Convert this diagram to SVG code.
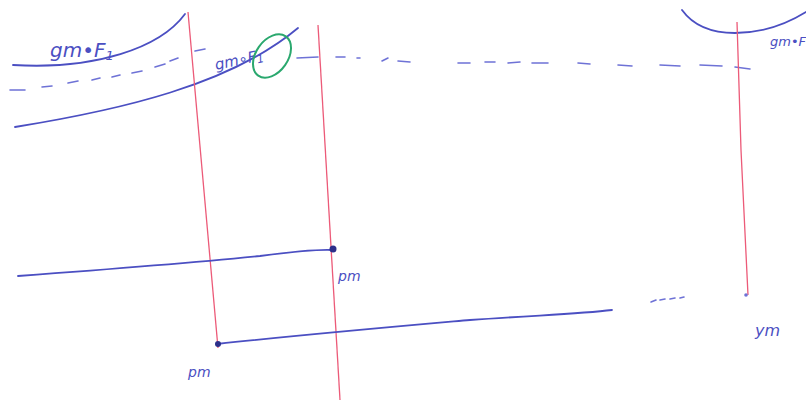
<svg xmlns="http://www.w3.org/2000/svg" width="806" height="400" viewBox="0 0 806 400">
<style>
.b{fill:none;stroke:#4b4fc2;stroke-width:1.8;stroke-linecap:round}
.bd{fill:none;stroke:#6e72d6;stroke-width:1.6;stroke-linecap:round}
.r{fill:none;stroke:#ec5a78;stroke-width:1.3}
.g{fill:none;stroke:#2aa86e;stroke-width:2}
.t{font-family:"DejaVu Sans",sans-serif;font-style:italic;fill:#4b4fc2}
</style>
<rect width="806" height="400" fill="#fff"/>
<g id="curves">
<path class="b" d="M13,65 C95,70 160,48 185,14"/>
<path class="b" d="M15,127 C120,110 230,85 298,28"/>
<path class="b" d="M682,10 C695,28 715,33 735,33 C760,33 785,25 806,12"/>
</g>
<g id="dashes">
<path class="bd" d="M10,90 L25,90 M42,87 L52,86 M68,83 L78,81 M92,80 L100,78 M112,77 L120,75 M132,73 L142,71 M155,67 L165,64 M170,61 L178,58 M195,51 L205,49 M297,58 L318,57 M336,57 L345,57 M357,58 L360,58 M382,61 L388,58 M398,61 L410,62 M458,63 L470,63 M485,62 L495,62 M508,63 L520,62 M532,63 L548,63 M578,63 L590,64 M618,65 L632,66 M660,65 L680,66 M700,65 L722,66 M735,67 L750,69"/>
<path class="bd" d="M651,302 L656,300 M660,300 L665,299 M670,299 L675,298 M680,298 L684,297"/>
</g>
<g id="verticals">
<path class="r" d="M188,12 L218,348"/>
<path class="r" d="M318,25 L340,400"/>
<path class="r" d="M737,22 L741,150 L748,295"/>
</g>
<g id="connectors">
<path class="b" d="M18,276 C100,270 200,262 260,256 C290,252 315,249 333,250"/>
<path class="b" d="M217,344 C300,335 380,328 470,320 C540,315 580,314 612,310"/>
</g>
<g id="node-pm-top"><circle cx="333" cy="249" r="3.5" fill="#2c2f8a"/><text class="t" x="338" y="281" font-size="14">pm</text></g>
<g id="node-pm-bottom"><circle cx="218" cy="344" r="3" fill="#2c2f8a"/><text class="t" x="188" y="377" font-size="14">pm</text></g>
<g id="node-ym"><circle cx="746" cy="295" r="1.8" fill="#6e72d6"/><text class="t" x="755" y="336" font-size="16">ym</text></g>
<g id="label-left"><text class="t" x="50" y="57" font-size="20">gm•F<tspan font-size="13" dy="3">1</tspan></text></g>
<g id="label-mid"><text class="t" x="216" y="70" font-size="15" transform="rotate(-12 216 70)">gm∘F<tspan font-size="11" dy="2">1</tspan></text></g>
<g id="label-right"><text class="t" x="770" y="46" font-size="13">gm•F</text></g>
<g id="highlight"><ellipse class="g" cx="272" cy="56" rx="16" ry="24" transform="rotate(35 272 56)"/></g>
</svg>
